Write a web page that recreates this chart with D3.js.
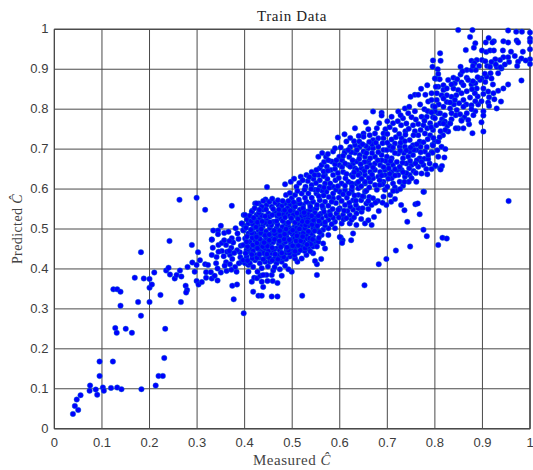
<!DOCTYPE html>
<html>
<head>
<meta charset="utf-8">
<script src="https://cdn.jsdelivr.net/npm/d3@7"></script>
<style>
  html, body { margin: 0; background: #fff; }
  svg { display: block; }
</style>
</head>
<body>
<script>
const xTicks = [0, 0.1, 0.2, 0.3, 0.4, 0.5, 0.6, 0.7, 0.8, 0.9, 1];
const yTicks = [0, 0.1, 0.2, 0.3, 0.4, 0.5, 0.6, 0.7, 0.8, 0.9, 1];

// [measured, predicted]
const lowTail = [
  [.039,.037],[.043,.057],[.050,.047],[.047,.073],[.055,.084],[.074,.095],[.075,.108],[.087,.098],[.090,.085],
  [.095,.132],[.095,.168],[.102,.103],[.104,.095],[.119,.102],[.123,.168],[.132,.103],[.141,.099],[.183,.099],
  [.213,.108],[.219,.132],[.228,.132],[.231,.177],[.233,.250],[.128,.252],[.131,.240],[.150,.250],[.163,.240],
  [.139,.308],[.176,.317],[.182,.283],[.200,.317],[.223,.335],[.124,.349],[.132,.349],[.139,.343],[.169,.378],
  [.188,.376],[.200,.375],[.200,.353],[.205,.361],[.210,.391],[.182,.442],[.242,.470],[.289,.460],[.302,.442],
  [.306,.422],[.235,.396],[.240,.403],[.243,.386],[.253,.376],[.257,.385],[.264,.396],[.267,.381],[.266,.317],
  [.276,.358],[.279,.347],[.277,.341]
];
const lowerLeft = [
  [.280,.405],[.290,.416],[.299,.410],[.295,.393],[.299,.370],[.303,.361],[.310,.367],[.319,.378],[.317,.412],
  [.323,.410],[.319,.392],[.329,.392],[.331,.376],[.337,.383],[.343,.371],[.350,.391],[.343,.401],[.340,.414],
  [.341,.430],[.331,.435],[.333,.453],[.345,.460],[.331,.473],[.352,.465],[.361,.417],[.369,.412],[.362,.395],
  [.374,.358],[.384,.361],[.377,.324],[.398,.289],[.383,.393],[.380,.405],[.388,.414],[.369,.435],[.363,.443],
  [.361,.460],[.352,.445],[.390,.442],[.394,.418],[.374,.425],[.384,.447],[.372,.453],[.263,.573],[.299,.578],
  [.317,.548],[.373,.558],[.350,.508],[.334,.496],[.344,.496],[.344,.487],[.357,.490],[.366,.493],[.381,.502],
  [.385,.489],[.373,.477],[.387,.475],[.331,.474],[.357,.472],[.398,.496],[.394,.514],[.399,.508],[.398,.535],
  [.408,.531],[.416,.546],[.422,.564],[.430,.564],[.444,.574],[.447,.605],[.368,.445],[.345,.443],[.356,.432],
  [.378,.440],[.392,.458],[.376,.466],[.368,.470],[.391,.429],[.358,.408],[.372,.398]
];
const denseLow = [
  [.418,.343],[.429,.333],[.436,.333],[.457,.331],[.469,.331],[.521,.333],[.478,.383],[.469,.365],[.459,.370],
  [.448,.370],[.439,.355],[.415,.368],[.420,.378],[.426,.377],[.436,.368],[.457,.385],[.446,.385],[.433,.383],
  [.408,.393],[.427,.393],[.439,.385],[.460,.396],[.499,.393],[.492,.399],[.485,.408],[.511,.418],[.520,.426],
  [.530,.435],[.544,.439],[.495,.431],[.506,.426],[.401,.414],[.408,.410],[.552,.385],[.552,.412],[.548,.420],
  [.561,.425],[.397,.422],[.411,.414],[.422,.422],[.432,.414],[.443,.418],[.453,.418],[.467,.414],[.478,.418],
  [.418,.405],[.436,.402],[.449,.406],[.463,.404],[.474,.399],[.404,.431],[.411,.443],[.425,.435],[.436,.443],
  [.446,.431],[.457,.439],[.471,.435],[.485,.439],[.416,.427],[.430,.428],[.452,.428],[.463,.426],[.476,.427],
  [.487,.425],[.397,.460],[.411,.451],[.422,.456],[.432,.460],[.443,.451],[.453,.460],[.467,.451],[.481,.460],
  [.495,.456],[.506,.451],[.520,.456],[.534,.451],[.545,.460],[.404,.447],[.418,.445],[.429,.449],[.440,.439],
  [.450,.445],[.461,.447],[.474,.446],[.488,.448],[.500,.444],[.512,.441],[.526,.445],[.401,.476],[.411,.468],
  [.422,.472],[.429,.485],[.457,.476],[.467,.481],[.478,.472],[.488,.481],[.502,.476],[.516,.476],[.530,.476],
  [.544,.481],[.416,.478],[.437,.470],[.445,.478],[.449,.467],[.460,.467],[.472,.463],[.486,.468],[.497,.466],
  [.510,.466],[.524,.466],[.537,.468],[.549,.470],[.397,.497],[.408,.489],[.418,.502],[.429,.497],[.453,.502],
  [.467,.502],[.481,.493],[.495,.502],[.509,.493],[.523,.497],[.544,.502],[.420,.489],[.438,.487],[.445,.494],
  [.458,.490],[.471,.491],[.490,.490],[.501,.486],[.516,.486],[.530,.487],[.540,.491],[.394,.514],[.408,.514],
  [.422,.522],[.432,.527],[.446,.522],[.460,.518],[.474,.527],[.485,.514],[.499,.522],[.513,.514],[.527,.527],
  [.537,.518],[.417,.512],[.428,.510],[.438,.507],[.449,.512],[.469,.511],[.479,.505],[.491,.509],[.505,.505],
  [.520,.507],[.534,.508],[.401,.535],[.415,.543],[.425,.535],[.439,.548],[.450,.539],[.464,.543],[.478,.548],
  [.488,.539],[.502,.543],[.516,.548],[.530,.543],[.544,.548],[.436,.534],[.453,.531],[.468,.533],[.481,.536],
  [.495,.533],[.508,.532],[.519,.536],[.425,.564],[.446,.560],[.457,.556],[.471,.560],[.485,.564],[.495,.560],
  [.509,.563],[.523,.560],[.537,.563],[.436,.556],[.452,.568],[.464,.566],[.478,.557],[.490,.552],[.503,.554]
];
const denseMid = [
  [.506,.456],[.523,.468],[.506,.477],[.537,.477],[.544,.456],[.555,.468],[.565,.464],[.569,.451],[.562,.485],
  [.576,.485],[.541,.489],[.523,.489],[.509,.502],[.527,.502],[.551,.502],[.576,.502],[.590,.502],[.602,.479],
  [.606,.472],[.624,.472],[.628,.489],[.600,.480],[.605,.465],[.635,.510],[.653,.514],[.667,.510],[.621,.514],
  [.604,.514],[.590,.518],[.576,.523],[.562,.527],[.548,.527],[.534,.527],[.520,.531],[.502,.535],[.593,.539],
  [.607,.535],[.621,.535],[.635,.539],[.646,.543],[.579,.543],[.565,.552],[.551,.552],[.537,.547],[.523,.552],
  [.506,.556],[.516,.564],[.530,.568],[.544,.568],[.558,.572],[.569,.568],[.586,.577],[.611,.560],[.639,.552],
  [.656,.564],[.667,.560],[.499,.577],[.506,.585],[.520,.589],[.534,.589],[.551,.589],[.572,.593],[.586,.589],
  [.600,.593],[.611,.597],[.625,.593],[.639,.585],[.653,.593],[.558,.606],[.569,.614],[.586,.606],[.604,.614],
  [.618,.618],[.635,.614],[.653,.614],[.497,.618],[.509,.606],[.528,.606],[.541,.610],[.518,.631],[.530,.635],
  [.541,.643],[.555,.635],[.569,.635],[.586,.635],[.607,.643],[.625,.635],[.642,.639],[.558,.652],[.562,.660],
  [.555,.681],[.571,.681],[.583,.669],[.586,.694],[.599,.681],[.611,.694],[.632,.691],[.599,.660],[.618,.660],
  [.632,.652],[.660,.669],[.545,.625],[.558,.622],[.574,.625],[.591,.622],[.598,.628],[.612,.627],[.581,.648],
  [.573,.656],[.590,.650],[.605,.655],[.515,.615],[.533,.620],[.548,.598],[.563,.596],[.577,.580],[.592,.565],
  [.600,.552],[.616,.545],[.628,.548],[.598,.578],[.615,.578],[.628,.572],[.645,.572],[.662,.580],[.576,.558],
  [.548,.540],[.534,.536],[.560,.538],[.572,.533],[.586,.528],[.608,.524],[.625,.523],[.560,.514],[.545,.514],
  [.514,.523],[.565,.498],[.556,.494],[.583,.512]
];
const denseUpper = [
  [.625,.598],[.639,.602],[.656,.596],[.678,.598],[.695,.598],[.650,.581],[.670,.577],[.692,.581],[.706,.585],
  [.625,.614],[.639,.618],[.653,.618],[.664,.618],[.674,.610],[.692,.618],[.712,.614],[.726,.618],[.716,.604],
  [.733,.608],[.720,.596],[.777,.593],[.628,.631],[.639,.635],[.653,.635],[.670,.627],[.681,.631],[.695,.635],
  [.709,.627],[.723,.635],[.737,.631],[.636,.648],[.646,.652],[.664,.643],[.674,.648],[.685,.643],[.695,.648],
  [.709,.643],[.720,.648],[.730,.648],[.747,.635],[.751,.627],[.772,.639],[.761,.618],[.628,.664],[.622,.656],
  [.636,.669],[.664,.660],[.674,.664],[.685,.660],[.702,.664],[.712,.660],[.726,.656],[.740,.664],[.751,.660],
  [.765,.656],[.776,.660],[.653,.681],[.642,.685],[.664,.677],[.674,.681],[.688,.685],[.699,.681],[.709,.677],
  [.723,.689],[.733,.677],[.744,.681],[.754,.685],[.768,.677],[.789,.664],[.801,.658],[.811,.652],[.641,.719],
  [.632,.710],[.642,.706],[.636,.698],[.650,.694],[.660,.702],[.670,.702],[.681,.706],[.692,.698],[.699,.698],
  [.709,.698],[.726,.706],[.737,.706],[.747,.694],[.761,.698],[.779,.694],[.696,.750],[.692,.739],[.674,.739],
  [.663,.735],[.650,.739],[.650,.731],[.681,.727],[.692,.727],[.670,.723],[.709,.724],[.716,.714],[.730,.727],
  [.747,.723],[.765,.735],[.779,.739],[.790,.735],[.800,.719],[.754,.710],[.768,.719],[.793,.692],[.807,.681],
  [.632,.752],[.655,.767],[.670,.794],[.688,.791],[.688,.784],[.709,.781],[.712,.765],[.716,.748],[.723,.794],
  [.737,.802],[.746,.806],[.769,.812],[.778,.800],[.786,.819],[.796,.808],[.733,.777],[.751,.780],[.772,.781],
  [.783,.781],[.796,.780],[.807,.790],[.754,.760],[.765,.763],[.776,.760],[.790,.765],[.803,.760],[.729,.760],
  [.738,.745],[.758,.745],[.614,.719],[.610,.737],[.596,.729],[.622,.705],[.610,.690],[.620,.680],[.605,.672],
  [.652,.668],[.696,.670],[.716,.690],[.735,.690],[.762,.672],[.778,.676],[.783,.705],[.770,.706],[.795,.711],
  [.807,.719],[.817,.735],[.796,.709],[.814,.706],[.822,.700],[.795,.691],[.820,.679],[.801,.659],[.815,.658],
  [.812,.649],[.784,.637],[.776,.593],[.729,.560],[.736,.547],[.759,.562],[.764,.564],[.768,.537],[.742,.518],
  [.776,.498],[.783,.482],[.816,.478],[.825,.476],[.807,.460],[.748,.456],[.718,.446],[.698,.425],[.682,.412],
  [.652,.359],[.680,.570],[.698,.560],[.708,.568],[.716,.575],[.682,.545],[.672,.530],[.690,.612],[.745,.618],
  [.705,.638],[.755,.645],[.740,.640],[.688,.672],[.720,.668],[.655,.708],[.668,.712],[.705,.708],[.690,.715],
  [.728,.716],[.738,.736],[.755,.735],[.705,.755]
];
// overlapping marks inside the band, where single dots can only be estimated
const bandFill = [
  [.406,.421],[.426,.428],[.439,.424],[.458,.421],[.470,.424],[.482,.430],[.494,.440],[.505,.435],[.517,.447],
  [.402,.439],[.415,.436],[.431,.437],[.447,.437],[.464,.437],[.478,.440],[.492,.447],[.506,.444],[.538,.444],
  [.406,.456],[.417,.460],[.427,.452],[.438,.456],[.448,.457],[.458,.453],[.476,.455],[.489,.454],[.501,.458],
  [.513,.459],[.527,.452],[.539,.462],[.552,.456],[.404,.468],[.426,.465],[.432,.475],[.441,.466],[.452,.472],
  [.463,.474],[.473,.470],[.483,.475],[.494,.473],[.508,.470],[.518,.470],[.531,.461],[.543,.474],[.556,.478],
  [.405,.481],[.415,.490],[.425,.480],[.434,.490],[.443,.484],[.452,.486],[.463,.488],[.475,.483],[.484,.487],
  [.496,.492],[.510,.483],[.522,.481],[.534,.494],[.547,.495],[.558,.492],[.403,.503],[.413,.498],[.424,.505],
  [.435,.500],[.442,.516],[.456,.510],[.462,.496],[.474,.496],[.487,.500],[.501,.497],[.515,.500],[.528,.510],
  [.542,.511],[.553,.508],[.569,.509],[.405,.524],[.414,.520],[.427,.517],[.437,.519],[.453,.517],[.467,.520],
  [.480,.520],[.492,.516],[.506,.516],[.521,.519],[.532,.518],[.545,.522],[.556,.520],[.569,.517],[.411,.533],
  [.419,.528],[.430,.541],[.443,.532],[.458,.535],[.472,.537],[.485,.529],[.498,.527],[.512,.525],[.526,.535],
  [.541,.533],[.555,.533],[.567,.543],[.580,.535],[.598,.529],[.614,.527],[.630,.529],[.645,.525],[.660,.522],
  [.421,.552],[.431,.548],[.445,.549],[.460,.550],[.472,.549],[.484,.547],[.496,.546],[.510,.540],[.525,.541],
  [.538,.556],[.552,.560],[.563,.558],[.585,.550],[.597,.548],[.609,.546],[.622,.556],[.634,.560],[.648,.552],
  [.660,.550],[.439,.570],[.458,.576],[.470,.572],[.480,.570],[.492,.570],[.503,.567],[.514,.573],[.527,.578],
  [.541,.578],[.556,.582],[.566,.584],[.583,.568],[.604,.570],[.620,.566],[.634,.571],[.648,.582],[.660,.570],
  [.675,.566],[.690,.566],[.487,.585],[.495,.590],[.511,.595],[.526,.598],[.540,.600],[.554,.598],[.567,.604],
  [.578,.603],[.592,.598],[.607,.587],[.619,.589],[.631,.584],[.645,.607],[.662,.604],[.684,.610],[.700,.606],
  [.712,.595],[.727,.600],[.485,.612],[.504,.626],[.522,.622],[.536,.630],[.550,.615],[.566,.632],[.580,.614],
  [.596,.607],[.611,.608],[.626,.606],[.646,.626],[.661,.628],[.684,.622],[.702,.626],[.716,.634],[.736,.618],
  [.547,.635],[.551,.648],[.566,.644],[.575,.646],[.596,.640],[.614,.638],[.630,.642],[.652,.646],[.668,.636],
  [.688,.634],[.703,.652],[.716,.650],[.733,.642],[.746,.652],[.760,.640],[.782,.650],[.793,.650],[.567,.668],
  [.576,.672],[.590,.662],[.611,.664],[.627,.672],[.644,.662],[.657,.655],[.670,.654],[.680,.672],[.692,.655],
  [.707,.670],[.732,.666],[.748,.670],[.759,.664],[.772,.668],[.786,.675],[.563,.690],[.575,.688],[.593,.672],
  [.607,.683],[.624,.692],[.641,.676],[.656,.690],[.668,.690],[.681,.692],[.712,.704],[.727,.696],[.740,.697],
  [.756,.698],[.770,.692],[.786,.685],[.805,.697],[.590,.702],[.602,.704],[.618,.698],[.630,.720],[.648,.712],
  [.662,.718],[.676,.716],[.700,.716],[.718,.730],[.737,.720],[.749,.704],[.762,.712],[.776,.717],[.785,.725],
  [.797,.728],[.810,.730],[.622,.728],[.640,.733],[.660,.750],[.678,.752],[.700,.738],[.725,.738],[.745,.751],
  [.770,.748],[.784,.752],[.796,.748],[.812,.745],[.683,.765],[.700,.770],[.722,.770],[.740,.764],[.760,.774],
  [.778,.771],[.792,.755],[.728,.785],[.744,.790],[.758,.795],[.785,.795],[.800,.795],[.815,.775],[.826,.758],
  [.835,.775],[.844,.785],[.862,.780],[.872,.762],[.885,.795],[.891,.812],[.840,.812],[.851,.815],[.866,.812],
  [.885,.820],[.825,.818],[.808,.812],[.890,.832],[.902,.838],[.914,.830],[.925,.825]
];
const upperRight = [
  [.849,.998],[.879,.998],[.954,.997],[.971,.994],[.983,.994],[1,.992],[1,.977],[1,.969],[1,.950],[1,.925],[1,.913],
  [.874,.981],[.885,.965],[.882,.954],[.865,.948],[.913,.978],[.907,.967],[.924,.970],[.921,.967],[.944,.970],
  [.954,.967],[.972,.972],[.975,.967],[.899,.947],[.908,.943],[.916,.947],[.924,.947],[.943,.947],[.960,.944],
  [.985,.944],[.968,.933],[.982,.927],[.991,.922],[.975,.919],[.973,.908],[.954,.930],[.956,.918],[.944,.930],
  [.937,.923],[.927,.925],[.919,.918],[.910,.908],[.916,.906],[.930,.906],[.893,.908],[.899,.923],[.888,.923],
  [.877,.921],[.883,.915],[.854,.906],[.811,.940],[.796,.922],[.812,.921],[.795,.906],[.806,.900],[.807,.888],
  [.802,.876],[.810,.875],[.867,.898],[.877,.898],[.886,.898],[.800,.877],[.828,.873],[.839,.879],[.854,.887],
  [.867,.879],[.856,.867],[.842,.865],[.818,.860],[.807,.856],[.818,.848],[.825,.852],[.839,.852],[.849,.848],
  [.860,.860],[.870,.873],[.898,.877],[.909,.881],[.919,.877],[.933,.890],[.940,.902],[.954,.862],[.944,.852],
  [.933,.846],[.923,.840],[.912,.844],[.902,.852],[.895,.873],[.888,.852],[.877,.862],[.867,.845],[.856,.840],
  [.845,.835],[.835,.831],[.825,.835],[.814,.835],[.804,.840],[.802,.856],[.793,.840],[.793,.823],[.804,.823],
  [.818,.827],[.832,.817],[.842,.823],[.860,.823],[.874,.829],[.884,.840],[.898,.820],[.912,.817],[.914,.808],
  [.930,.802],[.939,.819],[.902,.795],[.902,.784],[.898,.767],[.877,.810],[.877,.800],[.860,.806],[.846,.798],
  [.832,.802],[.818,.806],[.800,.806],[.811,.790],[.821,.785],[.835,.790],[.853,.787],[.867,.790],[.881,.785],
  [.856,.773],[.870,.773],[.821,.769],[.832,.765],[.800,.777],[.811,.765],[.793,.792],[.902,.744],[.879,.740],
  [.860,.752],[.849,.752],[.844,.752],[.856,.771],[.828,.744],[.832,.764],[.818,.764],[.822,.748],[.982,.872],
  [.784,.860],[.771,.851],[.758,.836],[.749,.831],[.765,.836],[.780,.836],[.885,.865],[.955,.570],[.917,.890],
  [.905,.889],[.890,.880],[.922,.862],[.906,.868],[.878,.850],[.928,.912],[.938,.905],[.947,.912],[.906,.920],
  [.880,.908],[.858,.895],[.847,.875],[.835,.862],[.880,.870]
];

const width = 533, height = 470;
const pointSets = [lowTail, lowerLeft, denseLow, denseMid, denseUpper, bandFill, upperRight];

const x = d3.scaleLinear().domain([0, 1]).range([54.4, 530]);
const y = d3.scaleLinear().domain([0, 1]).range([428.7, 29.3]);

const svg = d3.select('body').append('svg')
  .attr('width', width)
  .attr('height', height);

const tickFormat = d => d3.format('~g')(d);
const gridColor = '#4a4a4a';

const xAxis = svg.append('g')
  .attr('transform', `translate(0,${y(0)})`)
  .call(d3.axisBottom(x).tickValues(xTicks).tickFormat(tickFormat)
    .tickSize(y(1) - y(0)).offset(0));

const yAxis = svg.append('g')
  .attr('transform', `translate(${x(0)},0)`)
  .call(d3.axisLeft(y).tickValues(yTicks).tickFormat(tickFormat)
    .tickSize(x(0) - x(1)).offset(0));

[xAxis, yAxis].forEach(axis => {
  axis.selectAll('.tick line').attr('stroke', gridColor).attr('stroke-width', 1);
  axis.select('.domain').attr('stroke', gridColor);
  axis.selectAll('text')
    .attr('font-family', '"Liberation Sans", Arial, sans-serif')
    .attr('font-size', 13)
    .attr('fill', '#3c3c3c');
});

// negative tick sizes push the labels into the plot, so move them back out
xAxis.selectAll('text').attr('y', 9).attr('dy', '0.71em');
yAxis.selectAll('text').attr('x', -6).attr('dy', '0.32em');

svg.append('rect')
  .attr('x', x(0)).attr('y', y(1))
  .attr('width', x(1) - x(0)).attr('height', y(0) - y(1))
  .attr('fill', 'none')
  .attr('stroke', gridColor);

svg.append('g')
  .selectAll('circle')
  .data(pointSets.flat())
  .join('circle')
  .attr('cx', d => x(d[0]))
  .attr('cy', d => y(d[1]))
  .attr('r', 2.75)
  .attr('fill', '#0000ff')
  .attr('stroke', '#0a6ec4')
  .attr('stroke-width', 0.4);

const serif = '"Liberation Serif", "DejaVu Serif", serif';

svg.append('text')
  .attr('x', 292).attr('y', 21)
  .attr('text-anchor', 'middle')
  .attr('font-family', serif).attr('font-size', 15)
  .attr('letter-spacing', 0.6)
  .attr('fill', '#222')
  .text('Train Data');

const xLabel = svg.append('text')
  .attr('x', 292).attr('y', 465)
  .attr('text-anchor', 'middle')
  .attr('font-family', serif).attr('font-size', 15)
  .attr('letter-spacing', 0.5)
  .attr('fill', '#444')
  .text('Measured ');
xLabel.append('tspan').attr('font-style', 'italic').text('Ĉ');

const yLabel = svg.append('text')
  .attr('transform', 'translate(22,229) rotate(-90)')
  .attr('text-anchor', 'middle')
  .attr('font-family', serif).attr('font-size', 14)
  .attr('letter-spacing', 0.4)
  .attr('fill', '#444')
  .text('Predicted ');
yLabel.append('tspan').attr('font-style', 'italic').text('Ĉ');
</script>
</body>
</html>
